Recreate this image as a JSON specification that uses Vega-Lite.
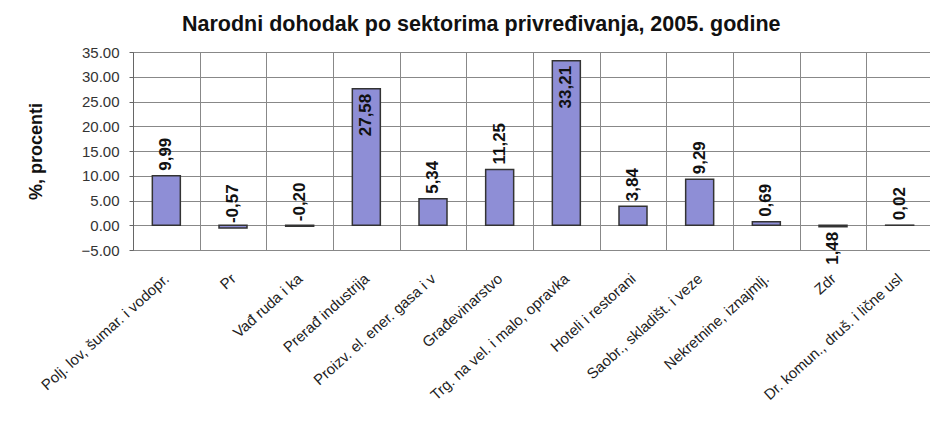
{
  "$schema": "https://vega.github.io/schema/vega-lite/v6.json",
  "width": 800,
  "height": 198,
  "autosize": {"type": "none"},
  "padding": {"left": 133, "top": 52, "right": 0, "bottom": 192},
  "background": "white",
  "title": {
    "text": "Narodni dohodak po sektorima privređivanja, 2005. godine",
    "font": "Liberation Sans",
    "fontSize": 21.5,
    "fontWeight": "bold",
    "color": "#111111",
    "anchor": "start",
    "frame": "group",
    "dx": 49,
    "offset": 10
  },
  "config": {
    "view": {"stroke": "#888888", "strokeWidth": 1},
    "font": "Liberation Sans"
  },
  "data": {
    "values": [
      {"sector": "Polj. lov, šumar. i vodopr.", "v": 9.99, "label": "9,99"},
      {"sector": "Pr", "v": -0.57, "label": "-0,57"},
      {"sector": "Vađ ruda i ka", "v": -0.2, "label": "-0,20"},
      {"sector": "Prerađ industrija", "v": 27.58, "label": "27,58"},
      {"sector": "Proizv. el. ener. gasa i v", "v": 5.34, "label": "5,34"},
      {"sector": "Građevinarstvo", "v": 11.25, "label": "11,25"},
      {"sector": "Trg. na vel. i malo, opravka", "v": 33.21, "label": "33,21"},
      {"sector": "Hoteli i restorani", "v": 3.84, "label": "3,84"},
      {"sector": "Saobr., skladišt. i veze", "v": 9.29, "label": "9,29"},
      {"sector": "Nekretnine, iznajmlj.", "v": 0.69, "label": "0,69"},
      {"sector": "Zdr", "v": -0.3, "label": "1,48"},
      {"sector": "Dr. komun., druš. i lične usl", "v": 0.02, "label": "0,02"}
    ]
  },
  "encoding": {
    "x": {
      "field": "sector",
      "type": "nominal",
      "sort": null,
      "scale": {"paddingInner": 0, "paddingOuter": 0},
      "axis": {
        "title": null,
        "tickBand": "extent",
        "grid": true,
        "gridColor": "#888888",
        "gridWidth": 1,
        "ticks": false,
        "domain": false,
        "labelAngle": -42,
        "labelAlign": "right",
        "labelBaseline": "middle",
        "labelPadding": 26,
        "labelFont": "Liberation Sans",
        "labelFontSize": 15,
        "labelColor": "#222222",
        "labelLimit": 0
      }
    },
    "y": {
      "field": "v",
      "type": "quantitative",
      "scale": {"domain": [-5, 35], "nice": false, "zero": false},
      "axis": {
        "values": [-5, 0, 5, 10, 15, 20, 25, 30, 35],
        "format": ".2f",
        "title": "%, procenti",
        "titleFont": "Liberation Sans",
        "titleFontSize": 18,
        "titleFontWeight": "bold",
        "titleColor": "#111111",
        "titlePadding": 36,
        "labelFont": "Liberation Sans",
        "labelFontSize": 15,
        "labelColor": "#333333",
        "labelPadding": 10,
        "grid": true,
        "gridColor": "#888888",
        "gridWidth": 1,
        "domainColor": "#666666",
        "tickColor": "#666666",
        "tickSize": 4
      }
    }
  },
  "layer": [
    {
      "mark": {"type": "bar", "width": {"band": 0.42}, "fill": "#8E8ED6", "stroke": "#333333", "strokeWidth": 1.5}
    },
    {
      "transform": [{"filter": "datum.v <= 20 && !(datum.v < 0 && indexof(datum.label, '-') != 0)"}],
      "mark": {"type": "text", "angle": 270, "align": "left", "baseline": "middle", "dx": 5, "font": "Liberation Sans", "fontSize": 17, "fontWeight": "bold", "color": "#111111"},
      "encoding": {"text": {"field": "label"}}
    },
    {
      "transform": [{"filter": "datum.v > 20 || (datum.v < 0 && indexof(datum.label, '-') != 0)"}],
      "mark": {"type": "text", "angle": 270, "align": "right", "baseline": "middle", "dx": -5, "font": "Liberation Sans", "fontSize": 17, "fontWeight": "bold", "color": "#111111"},
      "encoding": {"text": {"field": "label"}}
    }
  ]
}
